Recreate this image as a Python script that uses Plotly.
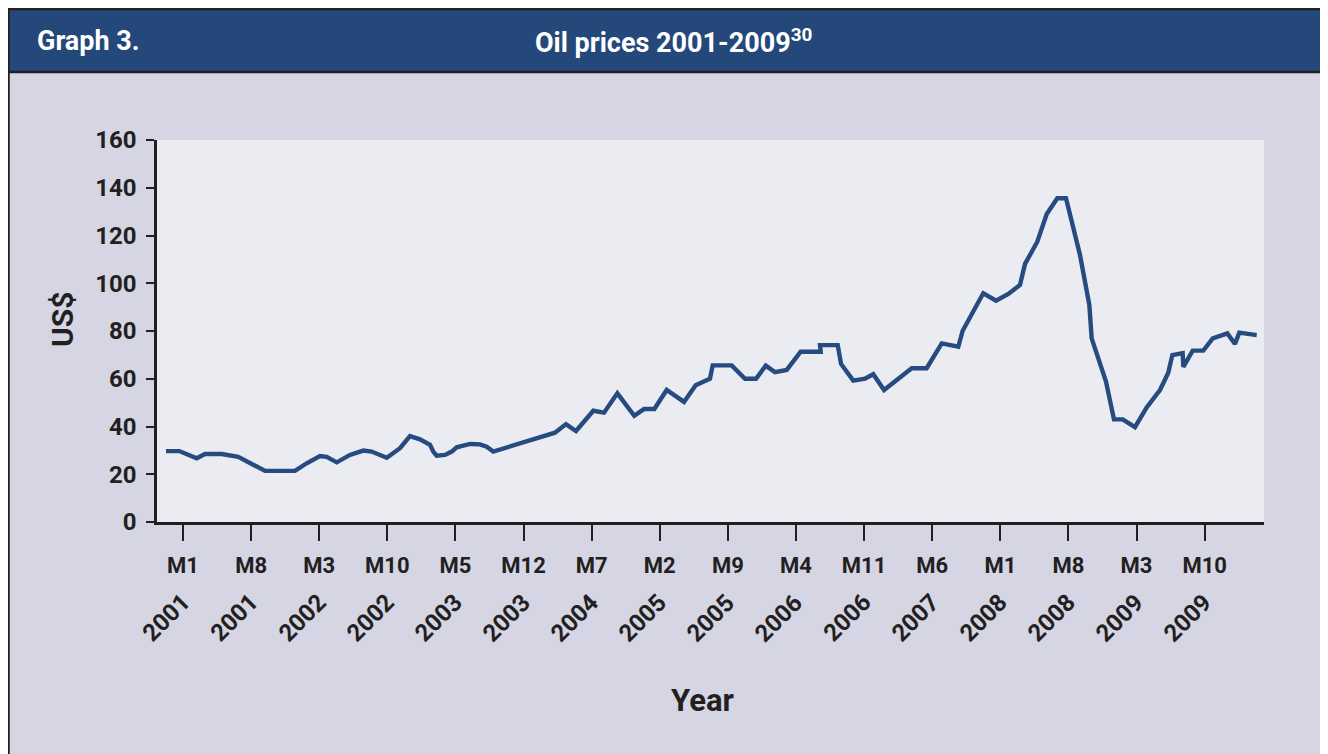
import plotly.graph_objects as go

# ---- data (x = months since January 2001, y = US$ per barrel) ----
month_index = [-1.75, -0.38, 1.41, 2.26, 3.98, 5.68, 8.43, 11.51, 12.71, 14.08,
               14.77, 15.80, 17.16, 18.53, 19.39, 20.94, 22.30, 23.33, 24.36, 25.39,
               25.72, 26.07, 26.93, 27.62, 28.13, 29.50, 30.52, 31.21, 31.89, 38.23,
               39.36, 40.39, 42.17, 43.27, 44.64, 46.38, 47.38, 48.44, 49.71, 51.49,
               52.69, 54.16, 54.44, 56.39, 57.76, 58.89, 59.89, 60.84, 62.05, 63.48,
               65.54, 65.47, 67.29, 67.63, 68.89, 70.09, 70.94, 72.05, 74.89, 76.43,
               77.98, 79.68, 80.13, 82.25, 83.56, 84.82, 86.02, 86.54, 87.80, 88.77,
               89.86, 90.75, 92.19, 93.15, 93.39, 94.86, 95.68, 96.58, 97.84, 99.04,
               100.41, 101.26, 101.68, 102.74, 102.81, 103.77, 104.86, 105.83, 107.33, 108.12,
               108.56, 110.35]
price_usd = [29.7, 29.7, 26.7, 28.5, 28.5, 27.3, 21.4, 21.4, 24.6, 27.6,
             27.3, 25.0, 28.1, 29.9, 29.5, 26.9, 30.9, 36.0, 34.6, 32.3,
             29.5, 27.8, 28.1, 29.5, 31.3, 32.7, 32.5, 31.5, 29.5, 37.4,
             41.0, 38.1, 46.6, 45.8, 53.9, 44.5, 47.3, 47.3, 55.3, 50.3,
             57.3, 60.0, 65.6, 65.6, 60.0, 60.0, 65.5, 62.8, 63.7, 71.3,
             71.3, 74.1, 74.1, 66.2, 59.2, 60.0, 61.9, 55.3, 64.4, 64.4,
             74.8, 73.4, 80.1, 95.8, 92.7, 95.5, 99.3, 108.1, 117.4, 129.0,
             135.6, 135.6, 111.8, 90.9, 76.9, 58.8, 43.0, 43.0, 39.7, 48.0,
             55.3, 62.5, 69.9, 70.7, 65.0, 71.8, 71.8, 76.9, 79.0, 74.6,
             79.3, 78.3]

tick_months = [0, 7, 14, 21, 28, 35, 42, 49, 56, 63, 70, 77, 84, 91, 98, 105]
tick_month_labels = ["M1", "M8", "M3", "M10", "M5", "M12", "M7", "M2",
                     "M9", "M4", "M11", "M6", "M1", "M8", "M3", "M10"]
tick_year_labels = ["2001", "2001", "2002", "2002", "2003", "2003", "2004", "2005",
                    "2005", "2006", "2006", "2007", "2008", "2008", "2009", "2009"]

title_left = "Graph 3."
title_main = "Oil prices 2001-2009<sup>30</sup>"
y_title = "US$"
x_title = "Year"

# ---- styling ----
# the page body adds an 8px margin, so the figure is 8px smaller and all
# reference pixel positions are shifted by -8
OFF = 8
W, H = 1328 - OFF, 754 - OFF
L, R, T, B = 157 - OFF, 1264 - OFF, 140 - OFF, 522 - OFF
FONT = "Roboto, 'Open Sans', sans-serif"
DARK = "#231F20"
BLUE = "#24487A"
LINE = "#254B80"
PANEL = "#D5D5E3"
PLOTBG = "#EBECF2"
PX_PER_MONTH = 9.73
M0_PX = 183  # reference pixel of the first tick (M1 2001)


def px(xp):
    return (xp - OFF - L) / (R - L)


def py(yp):
    return (B - (yp - OFF)) / (B - T)


fig = go.Figure()
fig.add_trace(go.Scatter(
    x=month_index, y=price_usd, mode="lines",
    line=dict(color=LINE, width=4.4),
    hoverinfo="skip", showlegend=False,
))

shapes = [
    # outer panel with frame
    dict(type="rect", xref="paper", yref="paper", x0=px(8.5), x1=px(1326), y0=py(790), y1=py(9),
         fillcolor=PANEL, line=dict(color=DARK, width=2.5), layer="below"),
    # title bar
    dict(type="rect", xref="paper", yref="paper", x0=px(8.5), x1=px(1326), y0=py(72), y1=py(9),
         fillcolor=BLUE, line=dict(color=DARK, width=2.5), layer="below"),
    # plot area background
    dict(type="rect", xref="paper", yref="paper", x0=0, x1=1, y0=0, y1=1,
         fillcolor=PLOTBG, line=dict(width=0), layer="below"),
]

annotations = [
    dict(text=title_left, xref="paper", yref="paper", x=px(35), y=py(41),
         xanchor="left", yanchor="middle", showarrow=False,
         font=dict(family=FONT, size=27, color="white", weight="bold")),
    dict(text=title_main, xref="paper", yref="paper", x=px(533), y=py(41),
         xanchor="left", yanchor="middle", showarrow=False,
         font=dict(family=FONT, size=27, color="white", weight="bold")),
    dict(text=y_title, xref="paper", yref="paper", x=px(62), y=py(320),
         xanchor="center", yanchor="middle", showarrow=False, textangle=-90,
         font=dict(family=FONT, size=30, color=DARK, weight="bold")),
    dict(text=x_title, xref="paper", yref="paper", x=px(702), y=py(700),
         xanchor="center", yanchor="middle", showarrow=False,
         font=dict(family=FONT, size=31, color=DARK, weight="bold")),
]
for m, yr in zip(tick_months, tick_year_labels):
    annotations.append(dict(
        text=yr, xref="x", yref="paper", x=m, y=py(618), xshift=-17,
        xanchor="center", yanchor="middle", showarrow=False, textangle=-45,
        font=dict(family=FONT, size=24, color=DARK, weight="bold")))

fig.update_layout(
    width=W, height=H, autosize=False,
    margin=dict(l=L, r=W - R, t=T, b=H - B, pad=0),
    paper_bgcolor="white", plot_bgcolor="rgba(0,0,0,0)",
    shapes=shapes, annotations=annotations, showlegend=False,
)
fig.update_xaxes(
    range=[(157 - M0_PX) / PX_PER_MONTH, (1264 - M0_PX) / PX_PER_MONTH],
    tickmode="array", tickvals=tick_months, ticktext=tick_month_labels,
    showgrid=False, zeroline=False,
    showline=True, linecolor=DARK, linewidth=2.5,
    ticks="outside", ticklen=16, tickwidth=2, tickcolor=DARK,
    tickfont=dict(family=FONT, size=22, color=DARK, weight="bold"),
    ticklabelstandoff=6,
)
fig.update_yaxes(
    range=[0, 160], tickmode="linear", tick0=0, dtick=20,
    showgrid=False, zeroline=False,
    showline=True, linecolor=DARK, linewidth=2.5,
    ticks="outside", ticklen=8, tickwidth=2, tickcolor=DARK,
    tickfont=dict(family=FONT, size=24, color=DARK, weight="bold"),
    ticklabelstandoff=5,
)

fig.write_html("out.html")
